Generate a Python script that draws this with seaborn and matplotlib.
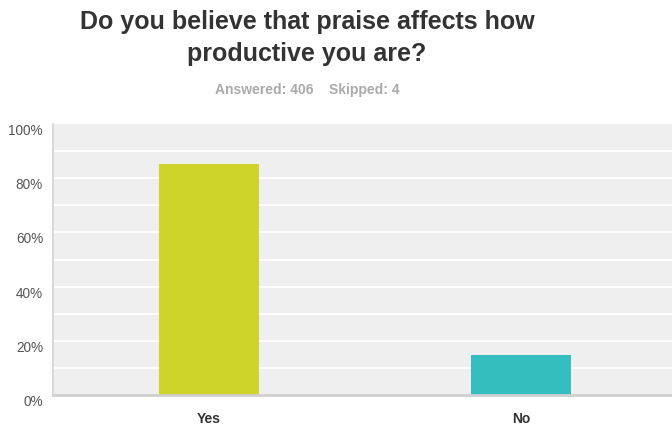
import matplotlib
matplotlib.use("Agg")
import matplotlib.pyplot as plt
import matplotlib.transforms as mtransforms
import seaborn as sns
import pandas as pd
from matplotlib.ticker import FuncFormatter

categories = ["Yes", "No"]
percentages = [85.2, 14.8]
bar_colors = ["#CED42A", "#34BEBF"]
y_ticks = [0, 20, 40, 60, 80, 100]

title = "Do you believe that praise affects how\nproductive you are?"
subtitle = "Answered: 406    Skipped: 4"

sns.set_theme(style="white")
plt.rcParams["font.family"] = ["Liberation Sans", "DejaVu Sans"]

df = pd.DataFrame({"answer": categories, "pct": percentages})

fig = plt.figure(figsize=(6.72, 4.28), dpi=100)
ax = fig.add_axes([53 / 672, 1 - 395 / 428, 624 / 672, 271 / 428])
ax.set_facecolor("#EFEFEF")

# horizontal white grid every 10%
for v in range(10, 100, 10):
    ax.axhline(v, color="white", lw=1.5, zorder=1)

sns.barplot(data=df, x="answer", y="pct", hue="answer", palette=bar_colors,
            width=0.32, legend=False, ax=ax, zorder=2, saturation=1,
            linewidth=0)

ax.set_xlim(-0.5, 1.5)
ax.set_ylim(0, 100)
ax.set_yticks(y_ticks)
ax.yaxis.set_major_formatter(FuncFormatter(lambda v, _: f"{v:.0f}%"))
ax.set_xlabel("")
ax.set_ylabel("")

for side in ["top", "right"]:
    ax.spines[side].set_visible(False)
ax.spines["left"].set_color("#D9D9D9")
ax.spines["left"].set_linewidth(1.5)
ax.spines["bottom"].set_color("#CFCFCF")
ax.spines["bottom"].set_linewidth(2)

ax.tick_params(axis="y", length=0, pad=10, labelsize=9.8, labelcolor="#555555")
ax.tick_params(axis="x", length=0, pad=12, labelsize=10, labelcolor="#333333")
for lbl in ax.get_xticklabels():
    lbl.set_fontweight("bold")

# y labels sit a little below their gridlines
shift = mtransforms.ScaledTranslation(4 / 100, -7 / 100, fig.dpi_scale_trans)
for lbl in ax.get_yticklabels():
    lbl.set_verticalalignment("center")
    lbl.set_transform(lbl.get_transform() + shift)

fig.text(307 / 672, 1 - 38 / 428, title, ha="center", va="center",
         fontsize=18, fontweight="bold", color="#333333", linespacing=1.38)
fig.text(307 / 672, 1 - 90 / 428, subtitle, ha="center", va="center",
         fontsize=10, fontweight="bold", color="#AAAAAA")

fig.savefig("out.png", dpi=100)
